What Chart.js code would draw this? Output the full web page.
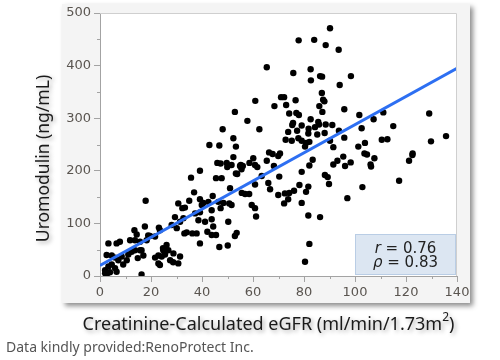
<!DOCTYPE html>
<html>
<head>
<meta charset="utf-8">
<script src="https://cdn.jsdelivr.net/npm/chart.js@4"></script>
<style>
  html, body { margin: 0; padding: 0; background: #fff; }
  #wrap { width: 500px; height: 360px; }
</style>
</head>
<body>
<div id="wrap"><canvas id="chart" width="500" height="360"></canvas></div>
<script>
// eGFR (x) and uromodulin (y), point by point
const egfr = [
  90.2, 77.9, 84, 88.5, 93.6, 65.4, 82.6, 75.8, 82.7, 86.3, 87.1, 98.4, 94, 87, 71, 72.2,
  76.7, 87.5, 88, 68.4, 73, 86, 87.2, 95.8, 74.2, 77, 78, 101.7, 107.3, 82.6, 75.7, 75.4,
  79.1, 81.8, 85.6, 85.9, 88.5, 91.1, 84.3, 102.6, 73.8, 77.3, 81.7, 85.2, 88.1, 93.7, 72.8, 75.2,
  77.8, 79.1, 80.8, 82.1, 90.2, 95.8, 103.9, 101.3, 80.4, 91.5, 66.3, 70.6,
  111.1, 129.1, 115, 110.5, 112.7, 129.8, 135.7, 122.6,
  82.1, 83.4, 95.4, 96.1, 98.3, 91.5, 93.1, 103.7, 104.7, 107.6, 106.1, 106.3, 122.5, 121.2, 88.2, 89.3,
  89.8, 81.7, 80.8, 102.9, 117.3, 97, 81.7, 86.3, 82.1, 80.4,
  52.3, 46, 47.3, 49.7, 51.6, 49.9, 55.2, 56, 53.3, 53.8, 58.6, 60.1, 60.8, 61.7, 65.4, 67.7,
  69.9, 68.2, 45.5, 47.7, 63.4, 70.3, 79.1, 60.8, 66, 66.7, 51, 55.6, 56.9, 58.5, 69.9, 72.5,
  74.2, 76.1, 78.2, 73.8, 72.2, 79.1, 39.2, 40.5, 39.9, 42.5, 44.2, 46.4, 47.3, 48.4, 50.7, 51.6,
  59.5, 60.8, 61.2, 43.8, 43.8, 41.2, 50.3, 42.1, 43.8, 45.5, 52.9, 53.6, 39.2, 46.8, 50.1,
  35.7, 36.9, 17.9, 35, 30.7, 32.3, 33.3, 29.4, 31.4, 32.7, 37.3, 39.2, 38.6, 28.1, 30.1, 33.1,
  34, 36.2, 37.9, 23.1, 23.5, 21.6, 18.9, 18.3, 15.7, 13.5, 14.4, 11.8, 13.7, 7.8, 6.5, 3.3,
  2.6, 4.6, 5.9, 7.2, 8.5, 10.5, 11.1, 12.4, 13.7, 14.8, 16.3, 17, 3.3, 4.6, 2, 5.9,
  6.5, 3.9, 2, 2.6, 16.3, 9.1, 21.6, 22.9, 24.2, 25.5, 26.8, 24.8, 27.5, 28.7, 22.9, 23.5,
  60.9, 52.9, 57.8, 62.5, 48.1, 52.3, 42.9, 46.8, 53.3, 54.9, 55.5, 39.2,
  26.1, 24.7, 31.4, 30.7, 28.8, 17.6, 15.7, 19.6, 44.4
];
const uromodulin = [
  471, 448, 449, 439, 430, 397, 393, 386, 372, 380, 379, 380, 363, 348, 340, 340,
  334, 335, 332, 323, 325, 323, 312, 317, 309, 310, 306, 306, 298, 298, 291, 287,
  286, 280, 293, 288, 288, 287, 283, 281, 274, 276, 271, 269, 272, 276, 259, 257,
  262, 257, 253, 255, 257, 263, 253, 246, 246, 245, 235, 233,
  311, 309, 285, 259, 260, 256, 266, 233,
  210, 221, 227, 209, 216, 212, 219, 233, 231, 224, 212, 208, 230, 219, 192, 188,
  175, 170, 160, 169, 181, 148, 115, 112, 61, 27,
  226, 215, 214, 215, 211, 207, 211, 209, 195, 194, 215, 224, 211, 207, 219, 232,
  228, 209, 186, 186, 190, 189, 198, 174, 177, 165, 167, 158, 156, 156, 154, 157,
  158, 162, 173, 146, 138, 139, 146, 139, 135, 141, 152, 141, 129, 139, 138, 135,
  135, 129, 113, 125, 108, 103, 103, 84, 78, 78, 76, 82, 62, 55, 58,
  187, 159, 143, 143, 138, 129, 130, 112, 103, 110, 119, 121, 106, 97, 91, 81,
  83, 81, 81, 92, 87, 75, 77, 68, 65, 87, 79, 68, 68, 65, 62, 62,
  40, 39, 35, 30, 37, 30, 41, 46, 49, 34, 49, 39, 18, 22, 11, 15,
  8, 7, 5, 2, 3, 22, 35, 39, 37, 41, 49, 49, 30, 26, 24, 21,
  333, 312, 295, 279, 279, 262, 249, 248, 246, 209, 203, 200,
  59, 53, 37, 24, 43, 94, 49, 76, 94
];

// fitted line end points
const fitX = [0, 140];
const fitY = [20, 395];

const xTicks = [0, 20, 40, 60, 80, 100, 120, 140];
const yTicks = [0, 100, 200, 300, 400, 500];
const xMinor = [10, 30, 50, 70, 90, 110, 130];
const yMinor = [50, 150, 250, 350, 450];

const statLines = ['r', '= 0.76', 'ρ', '= 0.83'];

const points = egfr.map((x, i) => ({ x: x, y: uromodulin[i] }));
const fitPoints = fitX.map((x, i) => ({ x: x, y: fitY[i] }));

const axisColor = '#a3a3a3';
const tickText = '#5a5550';

const panel = {
  id: 'panel',
  beforeDraw(chart) {
    const { ctx, chartArea } = chart;
    ctx.save();
    ctx.fillStyle = '#fff';
    ctx.fillRect(0, 0, chart.width, chart.height);
    ctx.shadowColor = 'rgba(0,0,0,0.45)';
    ctx.shadowBlur = 5;
    ctx.shadowOffsetX = 3;
    ctx.shadowOffsetY = 3;
    ctx.fillStyle = '#f4f4f4';
    ctx.fillRect(62, 4, 408, 299);
    ctx.shadowColor = 'transparent';
    ctx.fillStyle = '#fff';
    ctx.fillRect(chartArea.left, chartArea.top, chartArea.right - chartArea.left, chartArea.bottom - chartArea.top);
    ctx.restore();
  },
  afterDraw(chart) {
    const { ctx, chartArea } = chart;
    const xs = chart.scales.x, ys = chart.scales.y;
    ctx.save();
    // top and right frame
    ctx.strokeStyle = '#cfcfcf';
    ctx.lineWidth = 1;
    ctx.beginPath();
    ctx.moveTo(chartArea.left, chartArea.top + 0.5);
    ctx.lineTo(chartArea.right - 0.5, chartArea.top + 0.5);
    ctx.lineTo(chartArea.right - 0.5, chartArea.bottom);
    ctx.stroke();
    // minor ticks
    ctx.strokeStyle = axisColor;
    ctx.beginPath();
    xMinor.forEach(v => {
      const px = Math.round(xs.getPixelForValue(v)) + 0.5;
      ctx.moveTo(px, chartArea.bottom);
      ctx.lineTo(px, chartArea.bottom + 3);
    });
    yMinor.forEach(v => {
      const py = Math.round(ys.getPixelForValue(v)) + 0.5;
      ctx.moveTo(chartArea.left, py);
      ctx.lineTo(chartArea.left - 3, py);
    });
    ctx.stroke();

    // titles, with soft shadow
    ctx.shadowColor = 'rgba(0,0,0,0.35)';
    ctx.shadowBlur = 4;
    ctx.shadowOffsetX = 2;
    ctx.shadowOffsetY = 2;
    ctx.fillStyle = '#1a1a1a';
    ctx.textBaseline = 'middle';

    const xTitle = 'Creatinine-Calculated eGFR (ml/min/1.73m';
    ctx.font = '18px "Noto Sans"';
    const w1 = ctx.measureText(xTitle).width;
    ctx.font = '12px "Noto Sans"';
    const w2 = ctx.measureText('2').width;
    ctx.font = '18px "Noto Sans"';
    const w3 = ctx.measureText(')').width;
    let tx = 268.5 - (w1 + w2 + w3) / 2;
    ctx.textAlign = 'left';
    ctx.fillText(xTitle, tx, 325);
    ctx.font = '12px "Noto Sans"';
    ctx.fillText('2', tx + w1, 318);
    ctx.font = '18px "Noto Sans"';
    ctx.fillText(')', tx + w1 + w2, 325);

    ctx.save();
    ctx.translate(44, 158.5);
    ctx.rotate(-Math.PI / 2);
    ctx.textAlign = 'center';
    ctx.font = '17.5px "Noto Sans"';
    ctx.fillText('Uromodulin (ng/mL)', 0, 0);
    ctx.restore();

    ctx.shadowColor = 'transparent';
    ctx.fillStyle = '#555';
    ctx.font = '14px "Noto Sans"';
    ctx.textAlign = 'left';
    ctx.fillText('Data kindly provided:RenoProtect Inc.', 6, 348);
    ctx.restore();
  }
};

const statBox = {
  id: 'statBox',
  afterDatasetsDraw(chart) {
    const { ctx } = chart;
    const xs = chart.scales.x, ys = chart.scales.y;
    const l = Math.round(xs.getPixelForValue(100)) + 0.5;
    const r = Math.round(xs.getPixelForValue(140)) - 1.5;
    const t = Math.round(ys.getPixelForValue(80)) + 0.5;
    const b = Math.round(ys.getPixelForValue(0)) - 1.5;
    ctx.save();
    ctx.fillStyle = '#dce6f2';
    ctx.strokeStyle = '#b9cde5';
    ctx.lineWidth = 1;
    ctx.fillRect(l, t, r - l, b - t);
    ctx.strokeRect(l, t, r - l, b - t);
    ctx.fillStyle = '#222';
    ctx.textBaseline = 'middle';
    ctx.textAlign = 'left';
    const cx = (l + r) / 2;
    [[statLines[0], statLines[1], t + 15], [statLines[2], statLines[3], t + 29]].forEach(([sym, rest, y]) => {
      ctx.font = 'italic 15px "DejaVu Sans"';
      const ws = ctx.measureText(sym).width;
      ctx.font = '15px "DejaVu Sans"';
      const wr = ctx.measureText(' ' + rest).width;
      const x0 = cx - (ws + wr) / 2;
      ctx.font = 'italic 15px "DejaVu Sans"';
      ctx.fillText(sym, x0, y);
      ctx.font = '15px "DejaVu Sans"';
      ctx.fillText(' ' + rest, x0 + ws, y);
    });
    ctx.restore();
  }
};

new Chart(document.getElementById('chart'), {
  type: 'scatter',
  data: {
    datasets: [
      {
        type: 'line',
        data: fitPoints,
        borderColor: '#2d6ff2',
        borderWidth: 3,
        pointRadius: 0,
        fill: false,
        order: 0
      },
      {
        data: points,
        backgroundColor: '#000',
        borderWidth: 0,
        pointRadius: 3.2,
        order: 1
      }
    ]
  },
  options: {
    responsive: false,
    animation: false,
    layout: { padding: { left: 62, top: 13, right: 43, bottom: 54 } },
    plugins: {
      legend: { display: false },
      tooltip: { enabled: false }
    },
    scales: {
      x: {
        type: 'linear',
        min: 0,
        max: 140,
        afterFit: s => { s.height = 30; },
        afterBuildTicks: s => { s.ticks = xTicks.map(v => ({ value: v })); },
        ticks: { color: tickText, font: { family: 'DejaVu Sans', size: 13 }, padding: 3 },
        grid: { drawOnChartArea: false, tickLength: 6, color: axisColor },
        border: { color: axisColor }
      },
      y: {
        min: 0,
        max: 500,
        afterFit: s => { s.width = 38; },
        afterBuildTicks: s => { s.ticks = yTicks.map(v => ({ value: v })); },
        ticks: { color: tickText, font: { family: 'DejaVu Sans', size: 13 }, padding: 3 },
        grid: { drawOnChartArea: false, tickLength: 6, color: axisColor },
        border: { color: axisColor }
      }
    }
  },
  plugins: [panel, statBox]
});
</script>
</body>
</html>
